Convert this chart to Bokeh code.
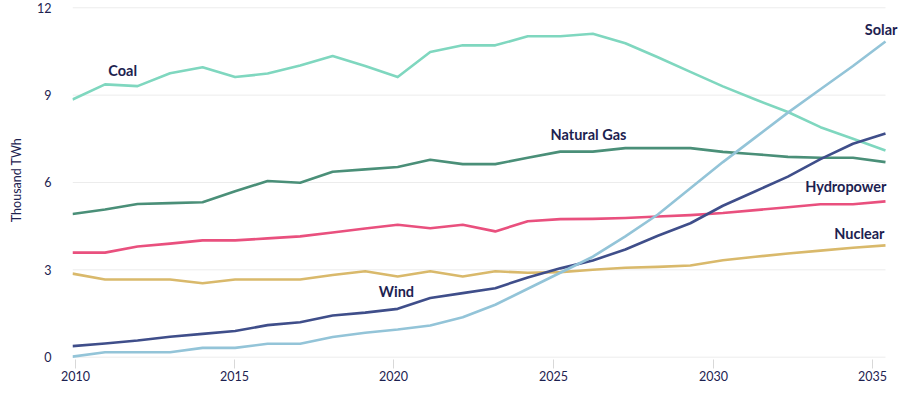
from bokeh.plotting import figure
from bokeh.models import Range1d, FixedTicker, CustomJSTickFormatter, Label
from bokeh.embed import file_html
from bokeh.resources import INLINE

years = [2010, 2011, 2012, 2013, 2014, 2015, 2016, 2017, 2018, 2019, 2020, 2021, 2022,
         2023, 2024, 2025, 2026, 2027, 2028, 2029, 2030, 2031, 2032, 2033, 2034, 2035]

coal = [8.85, 9.37, 9.31, 9.75, 9.96, 9.62, 9.74, 10.02, 10.34, 10.0, 9.62, 10.48, 10.71,
        10.71, 11.02, 11.02, 11.11, 10.78, 10.3, 9.8, 9.3, 8.85, 8.42, 7.9, 7.5, 7.1]
natural_gas = [4.92, 5.07, 5.26, 5.29, 5.32, 5.7, 6.05, 5.99, 6.37, 6.45, 6.53, 6.78, 6.63,
               6.63, 6.85, 7.06, 7.06, 7.18, 7.18, 7.18, 7.05, 6.97, 6.88, 6.85, 6.85, 6.7]
hydropower = [3.59, 3.59, 3.8, 3.9, 4.01, 4.01, 4.08, 4.15, 4.28, 4.42, 4.55, 4.43, 4.55,
              4.32, 4.67, 4.74, 4.75, 4.78, 4.83, 4.88, 4.95, 5.05, 5.15, 5.25, 5.25, 5.35]
nuclear = [2.87, 2.67, 2.67, 2.67, 2.54, 2.67, 2.67, 2.67, 2.82, 2.95, 2.77, 2.95, 2.77,
           2.95, 2.9, 2.92, 3.0, 3.07, 3.1, 3.15, 3.33, 3.45, 3.56, 3.66, 3.76, 3.84]
wind = [0.38, 0.47, 0.57, 0.7, 0.8, 0.9, 1.1, 1.2, 1.43, 1.53, 1.66, 2.03, 2.2,
        2.37, 2.74, 3.05, 3.32, 3.7, 4.17, 4.6, 5.2, 5.7, 6.2, 6.8, 7.33, 7.68]
solar = [0.02, 0.17, 0.17, 0.17, 0.32, 0.32, 0.46, 0.46, 0.69, 0.84, 0.95, 1.09, 1.37,
         1.8, 2.35, 2.9, 3.45, 4.15, 4.9, 5.8, 6.7, 7.55, 8.4, 9.2, 10.0, 10.84]

y_ticks = [0, 3, 6, 9, 12]
x_tick_labels = ["2010", "2015", "2020", "2025", "2030", "2035"]

FONT = "Lato"
TEXT = "#1d2250"

p = figure(width=898, height=392, output_backend="svg", toolbar_location=None,
           x_range=Range1d(2010, 2035.4), y_range=Range1d(-0.08, 12.25),
           min_border_left=72, min_border_right=0, min_border_top=0, min_border_bottom=33)
p.outline_line_color = None
p.background_fill_color = "white"
p.border_fill_color = "white"

# horizontal grid lines spanning only the years covered by the data
p.xgrid.grid_line_color = None
p.ygrid.grid_line_color = None
p.segment(x0=[years[0]] * len(y_ticks), x1=[years[-1]] * len(y_ticks),
          y0=y_ticks, y1=y_ticks, line_color="#ececec", line_width=1, level="underlay")

series = [
    (coal, "#7fd7bf"),
    (natural_gas, "#4a8f78"),
    (hydropower, "#e9507e"),
    (nuclear, "#d9b96b"),
    (wind, "#3f4e8a"),
    (solar, "#93c4d8"),
]
for vals, col in series:
    p.line(years, vals, line_color=col, line_width=2.6, line_join="round")

# y axis
p.yaxis.ticker = FixedTicker(ticks=y_ticks)
p.yaxis.axis_line_color = None
p.yaxis.major_tick_line_color = None
p.yaxis.minor_tick_line_color = None
p.yaxis.major_tick_out = 0
p.yaxis.major_tick_in = 0
p.yaxis.major_label_standoff = 21
p.yaxis.major_label_text_font = FONT
p.yaxis.major_label_text_font_size = "12.5px"
p.yaxis.major_label_text_color = TEXT
p.yaxis.axis_label = "Thousand TWh"
p.yaxis.axis_label_text_font = FONT
p.yaxis.axis_label_text_font_size = "12.5px"
p.yaxis.axis_label_text_font_style = "normal"
p.yaxis.axis_label_text_color = TEXT
p.yaxis.axis_label_standoff = 10

# x axis (ticks placed where the reference draws them)
p.xaxis.ticker = FixedTicker(ticks=[2010.09, 2014.98, 2019.87, 2024.79, 2029.71, 2034.6])
p.xaxis.formatter = CustomJSTickFormatter(args=dict(labels=x_tick_labels),
                                          code="return labels[index];")
p.xaxis.axis_line_color = None
p.xaxis.major_tick_line_color = "#d8d8d8"
p.xaxis.major_tick_out = 9
p.xaxis.major_tick_in = 0
p.xaxis.minor_tick_line_color = None
p.xaxis.major_label_standoff = 2
p.xaxis.major_label_text_font = FONT
p.xaxis.major_label_text_font_size = "12.5px"
p.xaxis.major_label_text_color = TEXT

labels = [
    ("Coal", 2011.1, 9.85, "left", 0),
    ("Natural Gas", 2024.7, 7.65, "left", 0),
    ("Wind", 2019.42, 2.27, "left", 0),
    ("Solar", 2035, 11.26, "right", 12),
    ("Hydropower", 2035, 5.87, "right", 1),
    ("Nuclear", 2035, 4.24, "right", -1),
]
for txt, x, y, align, xo in labels:
    p.add_layout(Label(x=x, y=y, text=txt, text_align=align, text_baseline="middle",
                       x_offset=xo, text_font=FONT, text_font_size="14.5px",
                       text_font_style="bold", text_color=TEXT, level="overlay"))

open("out.html", "w").write(file_html(p, INLINE))
